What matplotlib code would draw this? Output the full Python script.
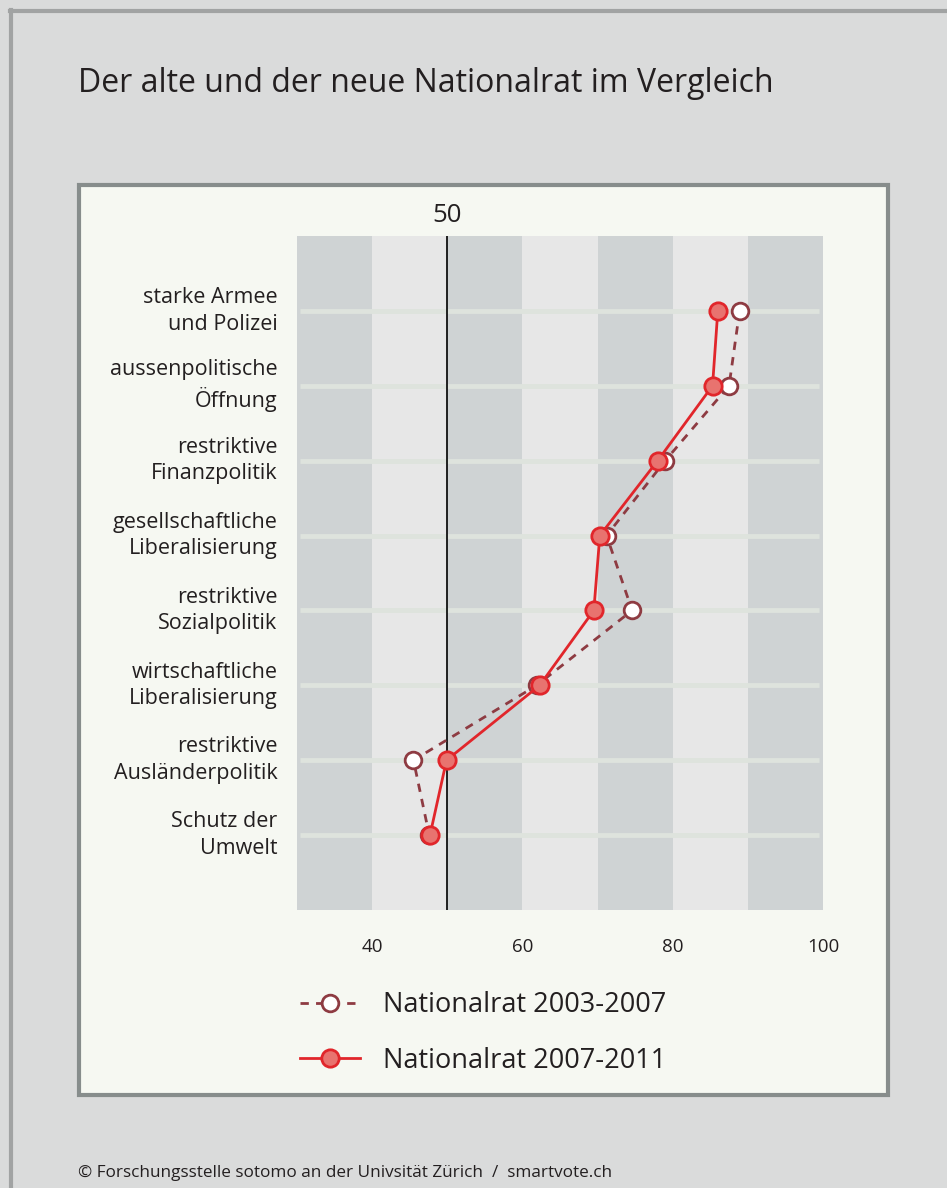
import numpy as np
import matplotlib
matplotlib.use('Agg')
import matplotlib.pyplot as plt
from matplotlib.patches import Rectangle
from matplotlib.lines import Line2D

plt.rcParams['font.family'] = ['Open Sans', 'DejaVu Sans']

# --- data ---
themes = ['starke Armee\nund Polizei',
          'aussenpolitische\nÖffnung',
          'restriktive\nFinanzpolitik',
          'gesellschaftliche\nLiberalisierung',
          'restriktive\nSozialpolitik',
          'wirtschaftliche\nLiberalisierung',
          'restriktive\nAusländerpolitik',
          'Schutz der\nUmwelt']
nr_2003_2007 = [88.9, 87.5, 79.0, 71.2, 74.6, 61.9, 45.5, 47.6]
nr_2007_2011 = [86.0, 85.3, 78.0, 70.3, 69.5, 62.3, 49.9, 47.7]
xticks = [40, 60, 80, 100]
band_edges = [30, 40, 50, 60, 70, 80, 90, 100]

W, H = 947, 1188
fig = plt.figure(figsize=(W / 100, H / 100), dpi=100)
fig.patch.set_facecolor('#dadbdb')

def fx(px):
    return px / W

def fy(py):
    return 1 - py / H

# outer frame (only top and left visible)
fig.add_artist(Line2D([fx(10), 1], [fy(11), fy(11)], color='#a1a3a3', lw=3, transform=fig.transFigure))
fig.add_artist(Line2D([fx(11), fx(11)], [fy(10), 0], color='#a1a3a3', lw=3, transform=fig.transFigure))

# inner panel
panel = Rectangle((fx(79), fy(1095)), fx(888) - fx(79), fy(185) - fy(1095),
                  transform=fig.transFigure, facecolor='#f6f8f2', edgecolor='#878d8c',
                  lw=3, zorder=-5)
fig.add_artist(panel)

fig.text(fx(78), fy(92), 'Der alte und der neue Nationalrat im Vergleich',
         fontsize=23, color='#231f20', va='baseline', ha='left')

fig.text(fx(78), fy(1173), '© Forschungsstelle sotomo an der Univsität Zürich  /  smartvote.ch',
         fontsize=12.3, color='#231f20', va='center', ha='left')

ax = fig.add_axes([fx(297), fy(910), fx(823) - fx(297), fy(236) - fy(910)])
ax.set_facecolor('none')
for s in ax.spines.values():
    s.set_visible(False)

# alternating vertical bands
for i in range(len(band_edges) - 1):
    c = '#cfd3d4' if i % 2 == 0 else '#e7e7e7'
    ax.axvspan(band_edges[i], band_edges[i + 1], color=c, lw=0, zorder=0)

rows = np.arange(len(themes), 0, -1)
ax.hlines(rows, 30.4, 99.5, color='#dee3dd', lw=3.5, zorder=1)
ax.axvline(50, color='#111111', lw=1.3, zorder=2)

old, = ax.plot(nr_2003_2007, rows, color='#8e3b42', lw=2.0, dashes=(3.0, 2.6),
               marker='o', ms=12, mfc='white', mec='#8e3b42', mew=2.0, zorder=3)
new, = ax.plot(nr_2007_2011, rows, color='#e1262b', lw=2.0,
               marker='o', ms=12.5, mfc='#e8736f', mec='#e1262b', mew=2.0, zorder=4)

ax.set_xlim(30, 100)
ax.set_ylim(0, 9)
ax.set_xticks(xticks)
ax.set_xticklabels([str(t) for t in xticks], fontsize=13.5, color='#231f20')
ax.set_yticks(rows)
ax.set_yticklabels(themes, fontsize=15.5, color='#231f20', linespacing=1.35)
ax.tick_params(axis='x', length=0, pad=20)
ax.tick_params(axis='y', length=0, pad=14)
for lbl in ax.get_yticklabels():
    lbl.set_va('center')

ax.annotate('50', xy=(50, 1), xycoords=('data', 'axes fraction'), xytext=(0, 6),
            textcoords='offset points', ha='center', va='bottom', fontsize=18.5,
            color='#231f20')

fig.legend(handles=[old, new], labels=['Nationalrat 2003-2007', 'Nationalrat 2007-2011'],
           loc='upper left', bbox_to_anchor=(fx(300), fy(991)), frameon=False,
           fontsize=19.5, handlelength=2.2, handletextpad=0.85, labelspacing=1.02,
           borderpad=0, borderaxespad=0, numpoints=1, labelcolor='#231f20')

fig.savefig('out.png', dpi=100, facecolor=fig.get_facecolor())
